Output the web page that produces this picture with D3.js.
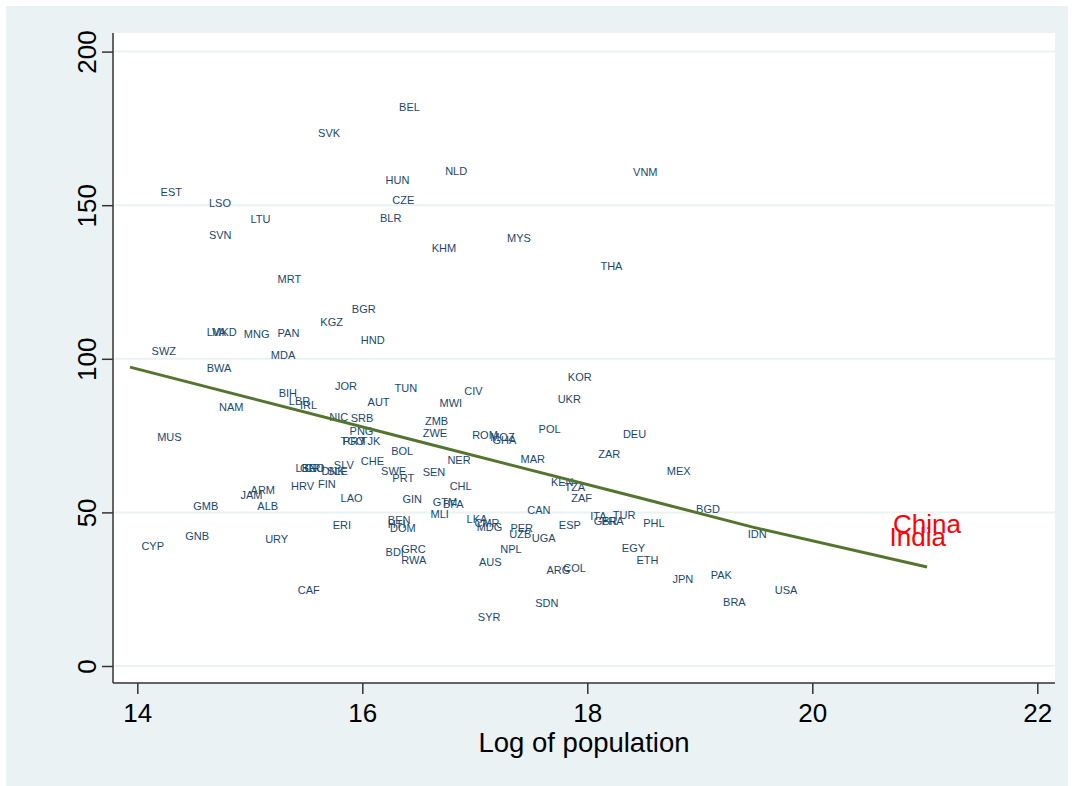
<!DOCTYPE html>
<html>
<head>
<meta charset="utf-8">
<script src="https://cdn.jsdelivr.net/npm/d3@7"></script>
<style>
  body { margin: 0; background: #fff; }
  text { font-family: "Liberation Sans", Arial, sans-serif; }
</style>
</head>
<body>
<div id="chart"></div>
<script>
// country codes, log of population and outcome
const codes = ["BEL","SVK","HUN","EST","LSO","CZE","LTU","BLR","SVN","MRT",
  "NLD","VNM","MYS","KHM","THA","BGR","KGZ","LVA","MKD","MNG",
  "PAN","HND","SWZ","MDA","BWA","JOR","TUN","BIH","LBR","IRL",
  "NAM","AUT","NIC","SRB","PNG","TGO","PRY","TJK","MUS","BOL",
  "KOR","CIV","MWI","UKR","ZMB","ZWE","ROM","MOZ","GHA","POL",
  "DEU","ZAR","NER","MAR","SEN","MEX","CHL","KEN","TZA","ZAF",
  "SLV","CHE","LBN","GEO","CRI","DNK","SLE","SWE","PRT","ARM",
  "JAM","HRV","FIN","LAO","GIN","GMB","ALB","ERI","BEN","HTI",
  "DOM","GNB","URY","CYP","BDI","GRC","RWA","CAF","GTM","BFA",
  "CAN","MLI","LKA","CMR","MDG","PER","UZB","UGA","ESP","ITA",
  "TUR","GBR","FRA","PHL","NPL","AUS","ARG","COL","EGY","ETH",
  "SDN","SYR","BGD","IDN","JPN","PAK","USA","BRA"];

const logPop = [16.30,15.58,16.18,14.18,14.61,16.24,14.98,16.13,14.61,15.22,
  16.71,18.38,17.26,16.59,18.09,15.88,15.60,14.59,14.64,14.92,
  15.22,15.96,14.10,15.16,14.59,15.73,16.26,15.23,15.32,15.42,
  14.70,16.02,15.68,15.87,15.86,15.78,15.80,15.96,14.15,16.23,
  17.80,16.88,16.66,17.71,16.53,16.51,16.95,17.11,17.13,17.54,
  18.29,18.07,16.73,17.38,16.51,18.68,16.75,17.65,17.77,17.83,
  15.72,15.96,15.38,15.42,15.46,15.61,15.66,16.14,16.24,14.98,
  14.89,15.34,15.58,15.78,16.33,14.47,15.04,15.71,16.20,16.20,
  16.22,14.40,15.11,14.01,16.18,16.32,16.32,15.40,16.60,16.69,
  17.44,16.58,16.90,16.97,16.99,17.29,17.28,17.48,17.72,18.00,
  18.20,18.03,18.10,18.47,17.20,17.01,17.61,17.76,18.28,18.41,
  17.51,17.00,18.94,19.40,18.73,19.07,19.64,19.18];

const outcome = [181.8,173.3,158.2,154.1,150.6,151.6,145.5,145.8,140.2,125.8,
  161.1,160.8,139.3,136.0,130.2,116.1,111.8,108.6,108.6,108.0,
  108.4,106.1,102.5,101.2,96.9,91.1,90.4,88.7,86.3,84.8,
  84.3,85.9,81.0,80.7,76.5,73.2,73.2,73.2,74.5,70.0,
  93.9,89.5,85.6,86.9,79.7,75.8,75.2,74.6,73.4,77.0,
  75.5,68.9,66.9,67.4,63.0,63.5,58.6,59.8,58.3,54.7,
  65.4,66.7,64.4,64.4,64.4,63.5,63.5,63.5,61.1,57.3,
  55.6,58.6,59.2,54.6,54.2,52.1,52.1,45.9,47.5,46.2,
  44.9,42.3,41.2,39.0,36.9,38.0,34.5,24.7,53.3,52.7,
  50.8,49.4,47.7,46.4,45.2,44.8,43.0,41.6,46.0,48.9,
  49.1,47.0,47.0,46.5,38.1,33.8,31.2,31.8,38.4,34.5,
  20.4,15.9,51.1,43.0,28.2,29.6,24.7,20.8];

// highlighted countries
const hiNames = ["China", "India"];
const hiLogPop = [20.69, 20.66];
const hiOutcome = [46.4, 41.9];

// fitted line, read at a few points
const fitX = [13.935, 16.60, 18.47, 19.47, 21.02];
const fitY = [97.3, 72.2, 54.7, 45.2, 32.2];

const xTicks = [14, 16, 18, 20, 22];
const yTicks = [0, 50, 100, 150, 200];

const width = 1074, height = 786;
const plot = { left: 113, right: 1055, top: 33, bottom: 683 };

const svg = d3.select("#chart").append("svg")
  .attr("width", width)
  .attr("height", height);

// outer graph region
svg.append("rect")
  .attr("x", 6).attr("y", 6)
  .attr("width", 1062).attr("height", 780)
  .attr("fill", "#eaf2f3");

// plot region
svg.append("rect")
  .attr("x", plot.left).attr("y", plot.top)
  .attr("width", plot.right - plot.left).attr("height", plot.bottom - plot.top)
  .attr("fill", "#ffffff");

const x = d3.scaleLinear().domain([14, 22]).range([137.3, 1037.3]);
const y = d3.scaleLinear().domain([0, 200]).range([666, 51.6]);

// gridlines
svg.append("g")
  .selectAll("line")
  .data(yTicks)
  .enter()
  .append("line")
  .attr("x1", plot.left).attr("x2", plot.right)
  .attr("y1", d => y(d)).attr("y2", d => y(d))
  .attr("stroke", "#eaf2f3")
  .attr("stroke-width", 2);

// y axis
const yAxis = svg.append("g")
  .attr("transform", `translate(${plot.left},0)`)
  .call(d3.axisLeft(y).tickValues(yTicks).tickSize(11).tickSizeOuter(0).tickFormat(d3.format("d")));
yAxis.select(".domain").attr("d", `M0,${plot.top}V${plot.bottom}`);
// rotated tick labels, as in the original
yAxis.selectAll("text")
  .attr("x", 0).attr("y", 0).attr("dy", null)
  .attr("text-anchor", "middle")
  .attr("transform", "translate(-17,0) rotate(-90)")
  .style("font-size", "26px")
  .attr("fill", "#000");

// x axis
const xAxis = svg.append("g")
  .attr("transform", `translate(0,${plot.bottom})`)
  .call(d3.axisBottom(x).tickValues(xTicks).tickSize(11).tickSizeOuter(0).tickPadding(10));
xAxis.select(".domain").attr("d", `M${plot.left},0H${plot.right}`);
xAxis.selectAll("text")
  .style("font-size", "26px")
  .attr("fill", "#000");

svg.selectAll(".domain, .tick line")
  .attr("stroke", "#333")
  .attr("stroke-width", 1.5);

// axis title
svg.append("text")
  .attr("x", (plot.left + plot.right) / 2)
  .attr("y", 752)
  .attr("text-anchor", "middle")
  .style("font-size", "27.5px")
  .text("Log of population");

// country labels
svg.append("g")
  .selectAll("text")
  .data(codes)
  .enter()
  .append("text")
  .attr("x", (d, i) => x(logPop[i]) + 3)
  .attr("y", (d, i) => y(outcome[i]))
  .attr("dy", "0.35em")
  .attr("fill", "#1a476f")
  .style("font-size", "11px")
  .text(d => d);

// highlighted labels
svg.append("g")
  .selectAll("text")
  .data(hiNames)
  .enter()
  .append("text")
  .attr("x", (d, i) => x(hiLogPop[i]) + 3)
  .attr("y", (d, i) => y(hiOutcome[i]))
  .attr("dy", "0.35em")
  .attr("fill", "#ff0000")
  .style("font-size", "26px")
  .text(d => d);

// fitted line
const line = d3.line()
  .x(d => x(d[0]))
  .y(d => y(d[1]));

svg.append("path")
  .datum(fitX.map((v, i) => [v, fitY[i]]))
  .attr("d", line)
  .attr("fill", "none")
  .attr("stroke", "#55752f")
  .attr("stroke-width", 3);
</script>
</body>
</html>
